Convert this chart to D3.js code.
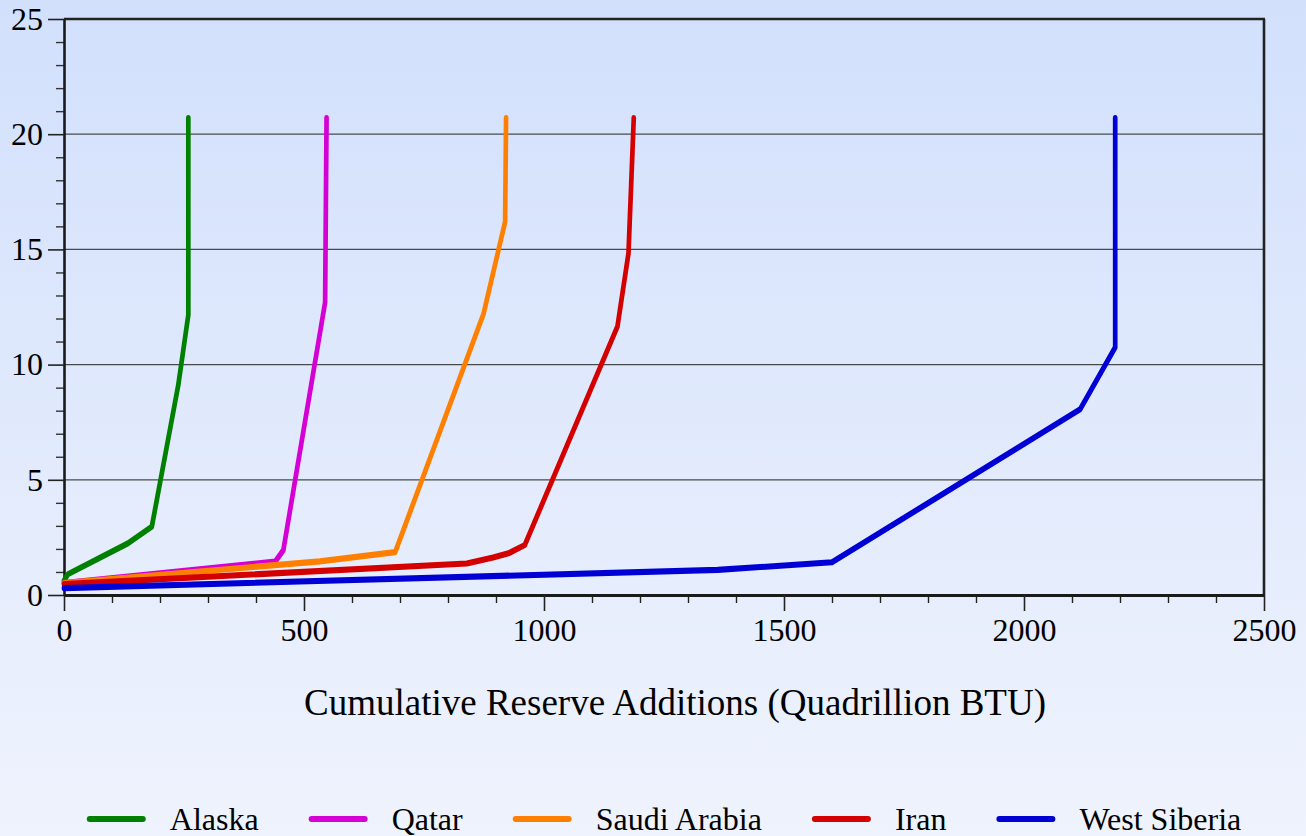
<!DOCTYPE html>
<html>
<head>
<meta charset="utf-8">
<script src="https://cdn.jsdelivr.net/npm/d3@7/dist/d3.min.js"></script>
<style>
html, body { margin: 0; padding: 0; overflow: hidden; }
svg { display: block; }
svg text { font-family: "Liberation Serif", "Times New Roman", "DejaVu Serif", serif; }
</style>
</head>
<body>
<script>
// ---- Data ----
const seriesNames = ["Alaska", "Qatar", "Saudi Arabia", "Iran", "West Siberia"];
const seriesColors = ["#008000", "#d400d4", "#ff8000", "#d40000", "#0000d4"];

const alaskaX = [0, 8, 133, 183, 238, 259, 259];
const alaskaY = [0.62, 0.9, 2.24, 2.97, 9.1, 12.15, 20.7];

const qatarX = [0, 440, 457, 544, 547];
const qatarY = [0.52, 1.45, 1.95, 12.7, 20.7];

const saudiX = [0, 533, 690, 874, 919, 921];
const saudiY = [0.52, 1.46, 1.86, 12.2, 16.2, 20.7];

const iranX = [0, 839, 894, 926, 960, 1153, 1176, 1187];
const iranY = [0.47, 1.37, 1.63, 1.81, 2.17, 11.65, 14.83, 20.7];

const siberiaX = [0, 1362, 1600, 2117, 2190, 2190];
const siberiaY = [0.3, 1.09, 1.42, 8.06, 10.75, 20.7];

const xTicks = [0, 500, 1000, 1500, 2000, 2500];
const yTicks = [0, 5, 10, 15, 20, 25];
const gridValues = [5, 10, 15, 20];
const xLabel = "Cumulative Reserve Additions (Quadrillion BTU)";

const seriesX = [alaskaX, qatarX, saudiX, iranX, siberiaX];
const seriesY = [alaskaY, qatarY, saudiY, iranY, siberiaY];

// ---- Layout ----
const W = 1306, H = 836;
const pL = 64, pR = 1264, pT = 19, pB = 595;
const FONT = "Liberation Serif, Times New Roman, DejaVu Serif, serif";

const svg = d3.select("body").append("svg").attr("width", W).attr("height", H);

const defs = svg.append("defs");
const grad = defs.append("linearGradient").attr("id", "bg")
  .attr("x1", 0).attr("y1", 0).attr("x2", 0).attr("y2", 1);
grad.append("stop").attr("offset", "0%").attr("stop-color", "#d2e0fc");
grad.append("stop").attr("offset", "100%").attr("stop-color", "#eff3fd");
svg.append("rect").attr("width", W).attr("height", H).attr("fill", "url(#bg)");

const x = d3.scaleLinear().domain([0, 2500]).range([pL, pR]);
const y = d3.scaleLinear().domain([0, 25]).range([pB, pT]);

// gridlines
svg.append("g").selectAll("line").data(gridValues).join("line")
  .attr("x1", pL).attr("x2", pR)
  .attr("y1", d => y(d)).attr("y2", d => y(d))
  .attr("stroke", "#4a4a4a").attr("stroke-width", 1.3);

// frame top/right
svg.append("line").attr("x1", pL).attr("x2", pR + 1).attr("y1", pT).attr("y2", pT)
  .attr("stroke", "#222").attr("stroke-width", 2.6);
svg.append("line").attr("x1", pR).attr("x2", pR).attr("y1", pT).attr("y2", pB)
  .attr("stroke", "#222").attr("stroke-width", 2.6);

// minor ticks
const xMinor = d3.range(0, 2501, 100).filter(v => v % 500 !== 0);
const yMinor = d3.range(0, 26, 1).filter(v => v % 5 !== 0);
const gxm = svg.append("g").attr("transform", `translate(0,${pB})`)
  .call(d3.axisBottom(x).tickValues(xMinor).tickSize(8).tickFormat(""));
gxm.select(".domain").remove();
gxm.selectAll("line").attr("stroke", "#222").attr("stroke-width", 1.4);
const gym = svg.append("g").attr("transform", `translate(${pL},0)`)
  .call(d3.axisLeft(y).tickValues(yMinor).tickSize(8).tickFormat(""));
gym.select(".domain").remove();
gym.selectAll("line").attr("stroke", "#333").attr("stroke-width", 1.4);

// major axes
const gx = svg.append("g").attr("transform", `translate(0,${pB})`)
  .attr("font-family", FONT)
  .call(d3.axisBottom(x).tickValues(xTicks).tickFormat(d3.format("d")).tickSize(16).tickPadding(7).tickSizeOuter(0));
gx.attr("font-family", FONT).attr("font-size", 32);
gx.select(".domain").attr("stroke", "#1a1a1a").attr("stroke-width", 3);
gx.selectAll("line").attr("stroke", "#222").attr("stroke-width", 1.6);
gx.selectAll("text").attr("font-family", FONT).attr("font-size", 32).attr("fill", "#000");

const gy = svg.append("g").attr("transform", `translate(${pL},0)`)
  .call(d3.axisLeft(y).tickValues(yTicks).tickFormat(d3.format("d")).tickSize(16).tickPadding(5).tickSizeOuter(0));
gy.attr("font-family", FONT).attr("font-size", 32);
gy.select(".domain").attr("stroke", "#1a1a1a").attr("stroke-width", 2.6);
gy.selectAll("line").attr("stroke", "#222").attr("stroke-width", 1.6);
gy.selectAll("text").attr("font-family", FONT).attr("font-size", 32).attr("fill", "#000");

// axis title
svg.append("text").attr("x", 675).attr("y", 715).attr("text-anchor", "middle")
  .attr("font-family", FONT).attr("font-size", 37).attr("fill", "#000")
  .text(xLabel);

// series lines (drawn in vertically stretched group so horizontal strokes look thicker)
const K = 1.3;
const yL = d3.scaleLinear().domain(y.domain()).range(y.range().map(v => v / K));
const lineGen = d3.line().x(d => x(d[0])).y(d => yL(d[1]));
const lg = svg.append("g").attr("transform", `scale(1,${K})`);
seriesNames.forEach((name, i) => {
  const pts = seriesX[i].map((v, j) => [v, seriesY[i][j]]);
  lg.append("path").datum(pts)
    .attr("d", lineGen)
    .attr("fill", "none")
    .attr("stroke", seriesColors[i])
    .attr("stroke-width", 4.7)
    .attr("stroke-linejoin", "round")
    .attr("stroke-linecap", "round");
});

// legend
const legend = svg.append("g");
const items = legend.selectAll("g").data(seriesNames).join("g");
items.append("line").attr("x1", 3).attr("x2", 56).attr("y1", 819).attr("y2", 819)
  .attr("stroke", (d, i) => seriesColors[i]).attr("stroke-width", 6).attr("stroke-linecap", "round");
items.append("text").attr("x", 83).attr("y", 830)
  .attr("font-family", FONT).attr("font-size", 32).attr("fill", "#000")
  .text(d => d);
let cur = 0;
const offs = [];
items.each(function () {
  const tw = d3.select(this).select("text").node().getComputedTextLength();
  offs.push(cur);
  cur += 83 + tw + 50;
});
const totalW = cur - 50;
const startX = (pL + pR) / 2 - totalW / 2;
items.attr("transform", (d, i) => `translate(${startX + offs[i]},0)`);
</script>
</body>
</html>
